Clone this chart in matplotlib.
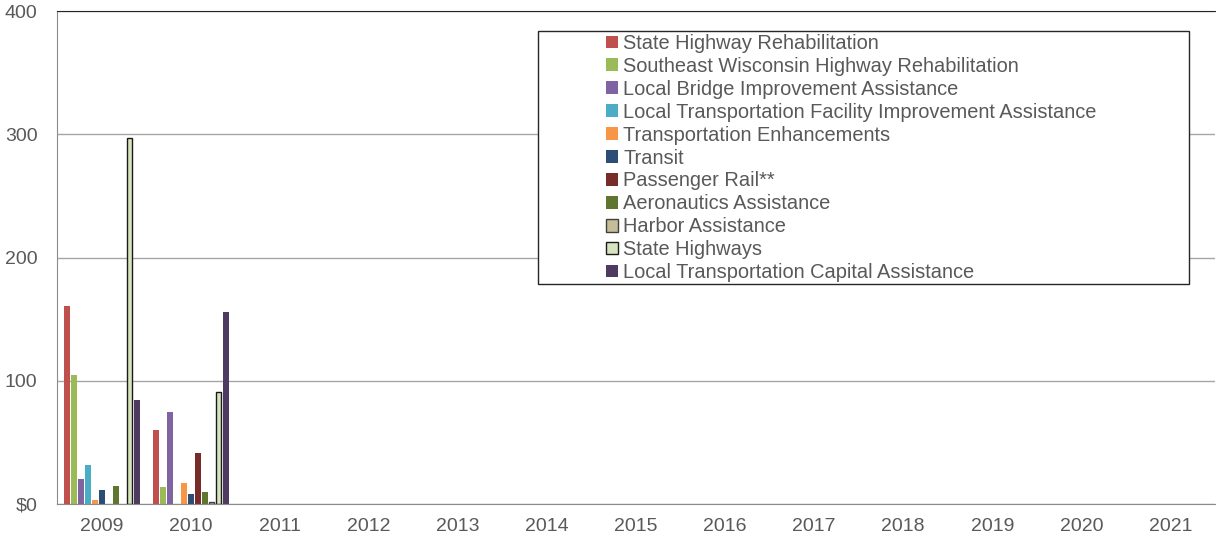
import numpy as np
import matplotlib.pyplot as plt
from matplotlib.patches import Rectangle

plt.rcParams['font.family'] = ['Liberation Sans', 'DejaVu Sans']

years = ['2009', '2010', '2011', '2012', '2013', '2014', '2015',
         '2016', '2017', '2018', '2019', '2020', '2021']

series_names = [
    'State Highway Rehabilitation',
    'Southeast Wisconsin Highway Rehabilitation',
    'Local Bridge Improvement Assistance',
    'Local Transportation Facility Improvement Assistance',
    'Transportation Enhancements',
    'Transit',
    'Passenger Rail**',
    'Aeronautics Assistance',
    'Harbor Assistance',
    'State Highways',
    'Local Transportation Capital Assistance',
]

# values for 2009 and 2010 only, later years empty
state_hwy_rehab = [161, 60]
se_wi_hwy_rehab = [105, 14]
local_bridge = [20, 75]
local_facility = [32, 0]
enhancements = [3, 17]
transit = [11, 8]
passenger_rail = [0, 41]
aeronautics = [15, 10]
harbor = [0, 2]
state_highways = [297, 91]
local_capital = [84, 156]

colors = ['#C0504D', '#9BBB59', '#8064A2', '#4BACC6', '#F79646', '#2C4D75',
          '#772C2A', '#5F7530', '#C4BD97', '#D7E4BD', '#4F3B62']
edges = [None] * 8 + ['#404040', '#1a1a1a', None]

data = [state_hwy_rehab, se_wi_hwy_rehab, local_bridge, local_facility,
        enhancements, transit, passenger_rail, aeronautics, harbor,
        state_highways, local_capital]

fig = plt.figure(figsize=(12.16, 5.44), dpi=100)
ax = fig.add_axes([57/1216, 40/544, 1 - 57/1216 - 1/1216, 493/544])

x = np.arange(len(years))
n = len(data)
step = 0.865 / n
for i, vals in enumerate(data):
    v = np.full(len(years), np.nan)
    v[:len(vals)] = vals
    v[v == 0] = np.nan
    offs = -0.865 / 2 + step * (i + 0.5)
    if edges[i]:
        ax.bar(x + offs, v, width=step * 0.8, color=colors[i],
               edgecolor=edges[i], linewidth=1.0, label=series_names[i])
    else:
        ax.bar(x + offs, v, width=step * 0.86, color=colors[i],
               linewidth=0, label=series_names[i])

ax.set_xlim(-0.5, len(years) - 0.5)
ax.set_ylim(0, 400)
ax.set_yticks([0, 100, 200, 300, 400])
ax.set_yticklabels(['$0', '100', '200', '300', '400'])
ax.set_xticks(x)
ax.set_xticklabels(years)
ax.tick_params(axis='both', length=0, labelsize=14, colors='#595959')
ax.tick_params(axis='y', pad=14)
ax.tick_params(axis='x', pad=10)
ax.yaxis.grid(True, color='#A6A6A6', linewidth=1)
ax.set_axisbelow(True)
for s in ['left', 'bottom']:
    ax.spines[s].set_color('#8C8C8C')
ax.spines['top'].set_color('#262626')
ax.spines['right'].set_visible(False)

# legend box
fig.patches.append(Rectangle((538/1216, 1 - 284/544), 651/1216, 253/544,
                             transform=fig.transFigure, fill=True,
                             facecolor='white', edgecolor='#262626',
                             linewidth=1, zorder=5))
leg = fig.legend(loc='upper left', bbox_to_anchor=(592/1216, 1 - 20/544),
                 frameon=False, fontsize=14.4, labelspacing=0.195,
                 handlelength=0.6, handleheight=0.6, handletextpad=0.25,
                 borderpad=0.2, labelcolor='#595959')
leg.set_zorder(6)

fig.savefig('out.png', dpi=100)
